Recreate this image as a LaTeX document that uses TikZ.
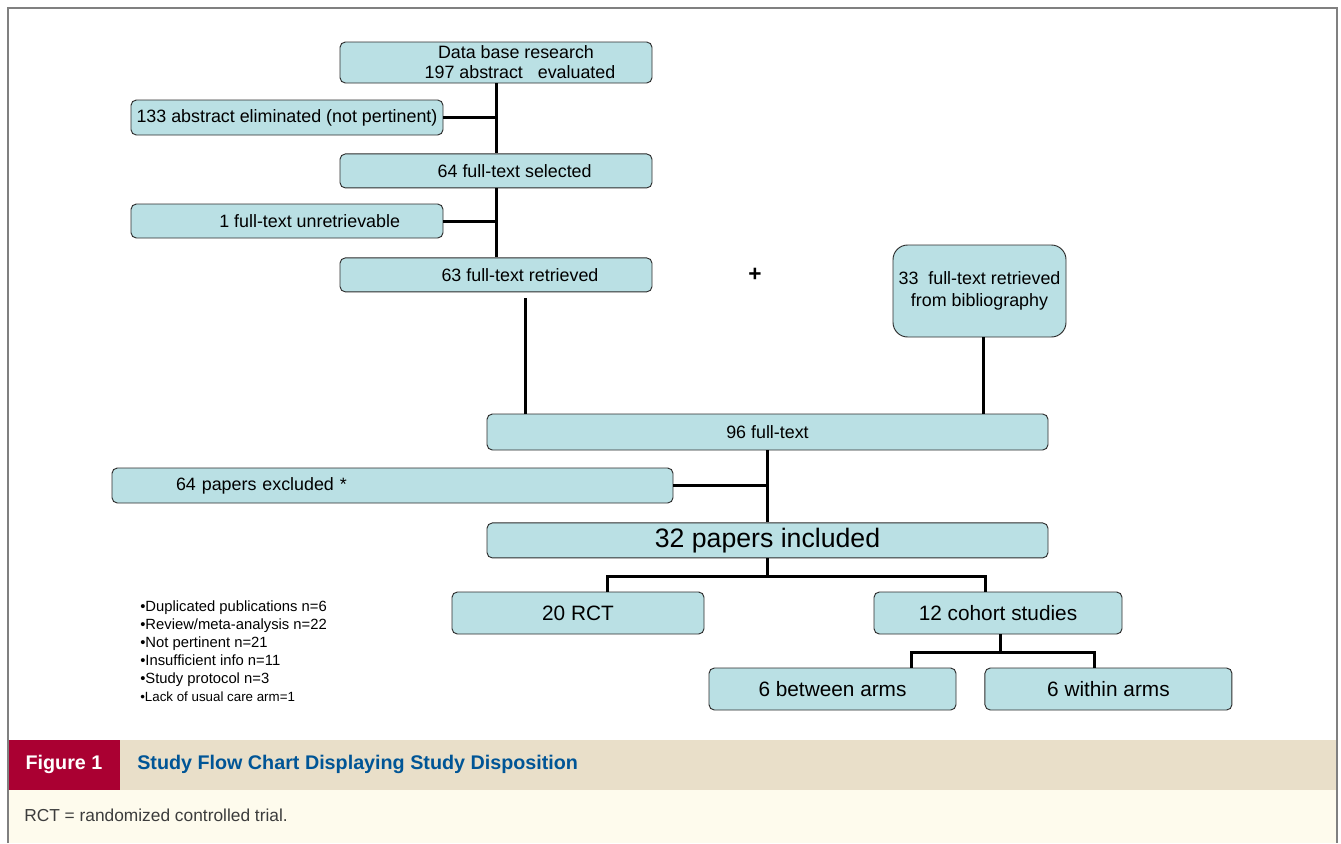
\documentclass[tikz,border=0pt]{standalone}
\usepackage{fontspec}
\setmainfont{Liberation Sans}
\usetikzlibrary{positioning, calc}
\definecolor{boxfill}{RGB}{186,224,228}
\definecolor{boxline}{RGB}{45,45,45}
\definecolor{bandtan}{RGB}{233,223,201}
\definecolor{bandcream}{RGB}{254,251,237}
\definecolor{figred}{RGB}{170,0,50}
\definecolor{figblue}{RGB}{0,85,150}
\definecolor{notegray}{RGB}{60,60,60}
\tikzstyle{link} = [line width=2.25pt]

\begin{document}
\begin{tikzpicture}[
  x=0.75pt, y=-0.75pt,
  box/.style={draw=boxline, fill=boxfill, rounded corners=4pt, line width=0.7pt,
              inner sep=2pt, align=center, font=\fontsize{13.4}{15}\selectfont},
  col/.style={box, minimum width=234pt, minimum height=25.5pt},
  wide/.style={box, minimum width=420.75pt, minimum height=26.25pt},
  leaf/.style={box, minimum width=186pt, minimum height=31.5pt,
               font=\fontsize{15.6}{18}\selectfont},
  captext/.style={anchor=west, inner sep=0pt}
]
  \useasboundingbox (0,0) rectangle (1341,843);

  % caption band
  \fill[bandtan]   (8,740) rectangle (1337,790);
  \fill[bandcream] (8,790) rectangle (1337,843);
  \fill[figred]    (8,740) rectangle (120,790);

  % screening column
  \node[col, minimum height=30.75pt, inner ysep=0.5pt] (db) at (496,62.5)
       {\hspace*{30pt}Data base research\\\hspace*{36pt}197 abstract\ \ \ evaluated};
  \node[col, minimum height=26.25pt] (elim)  at (287,117.5) {133 abstract eliminated (not pertinent)};
  \node[col, below=52.5pt of db]     (sel)   {\hspace*{28pt}64 full-text selected};
  \node[col]                         (unret) at (287,221) {\hspace*{34pt}1 full-text unretrievable};
  \node[col, below=51.75pt of sel]   (ret)   {\hspace*{36pt}63 full-text retrieved};
  \node[font=\fontsize{17}{17}\selectfont\bfseries] (plus) at (755,275) {+};
  \node[box, rounded corners=11pt, minimum width=129.75pt, minimum height=69pt,
        font=\fontsize{13.4}{16.5}\selectfont] (bib) at (979.5,291)
       {33~~full-text retrieved\\from bibliography};

  % pooled full texts
  \node[wide, minimum height=27pt] (full) at (767.5,432) {96 full-text};
  \node[wide, text width=416.75pt, align=left] (excl) at (392.5,485.5)
       {\hspace*{46pt}64 papers excluded *};
  \node[wide, below=54pt of full, font=\fontsize{20}{22}\selectfont] (incl) {32 papers included};

  % study designs
  \node[leaf, minimum width=189pt]    (rct)    at (578,613) {20 RCT};
  \node[leaf]                         (coh)    at (998,613) {12 cohort studies};
  \node[leaf, minimum width=185.25pt] (betw)   at (832.5,689) {6 between arms};
  \node[leaf, minimum width=185.25pt, right=21pt of betw] (within) {6 within arms};

  % exclusion reasons
  \node[anchor=north west, align=left, inner sep=0pt, font=\fontsize{11.1}{13.5}\selectfont] (notes) at (140,600)
       {•Duplicated publications n=6\\•Review/meta-analysis n=22\\•Not pertinent n=21\\•Insufficient info n=11\\•Study protocol n=3\\{\fontsize{10}{13.5}\selectfont •Lack of usual care arm=1}};

  % screening stem
  \draw[link] (db) -- (sel);
  \draw[link] (elim.east) -- (elim.east -| db.south);
  \draw[link] (sel) -- (ret);
  \draw[link] (unret.east) -- (unret.east -| sel.south);

  % merge into the pool
  \coordinate (drop) at ([shift={(29,6)}]ret.south);
  \draw[link] (drop) -- (drop |- full.north);
  \coordinate (bibfoot) at ([shift={(3.5,0)}]bib.south);
  \draw[link] (bibfoot) -- (bibfoot |- full.north);
  \draw[link] (full) -- (incl);
  \draw[link] (excl.east) -- (excl.east -| full.south);

  % design split
  \coordinate (split) at ([shift={(0,18)}]incl.south);
  \draw[link] (incl.south) -- (split);
  \draw[link] ([shift={(29,0)}]rct.north) |- (split) -| ([shift={(-13,0)}]coh.north);
  \coordinate (split2) at ([shift={(2,18)}]coh.south);
  \draw[link] ([shift={(2,0)}]coh.south) -- (split2);
  \draw[link] ([shift={(78.5,0)}]betw.north) |- (split2) -| ([shift={(-13.5,0)}]within.north);

  % caption texts
  \node[text=white, font=\fontsize{14.8}{16}\selectfont\bfseries] (fignum) at (64,764) {Figure 1};
  \node[captext, text=figblue, font=\fontsize{14.8}{16}\selectfont\bfseries] (figtitle) at (137,764)
       {Study Flow Chart Displaying Study Disposition};
  \node[captext, text=notegray, font=\fontsize{13}{15}\selectfont] (abbr) at (24,815)
       {RCT = randomized controlled trial.};

  % frame
  \draw[gray, line width=0.9pt] (8,843) -- (8,8) -- (1337,8) -- (1337,843);
\end{tikzpicture}
\end{document}
